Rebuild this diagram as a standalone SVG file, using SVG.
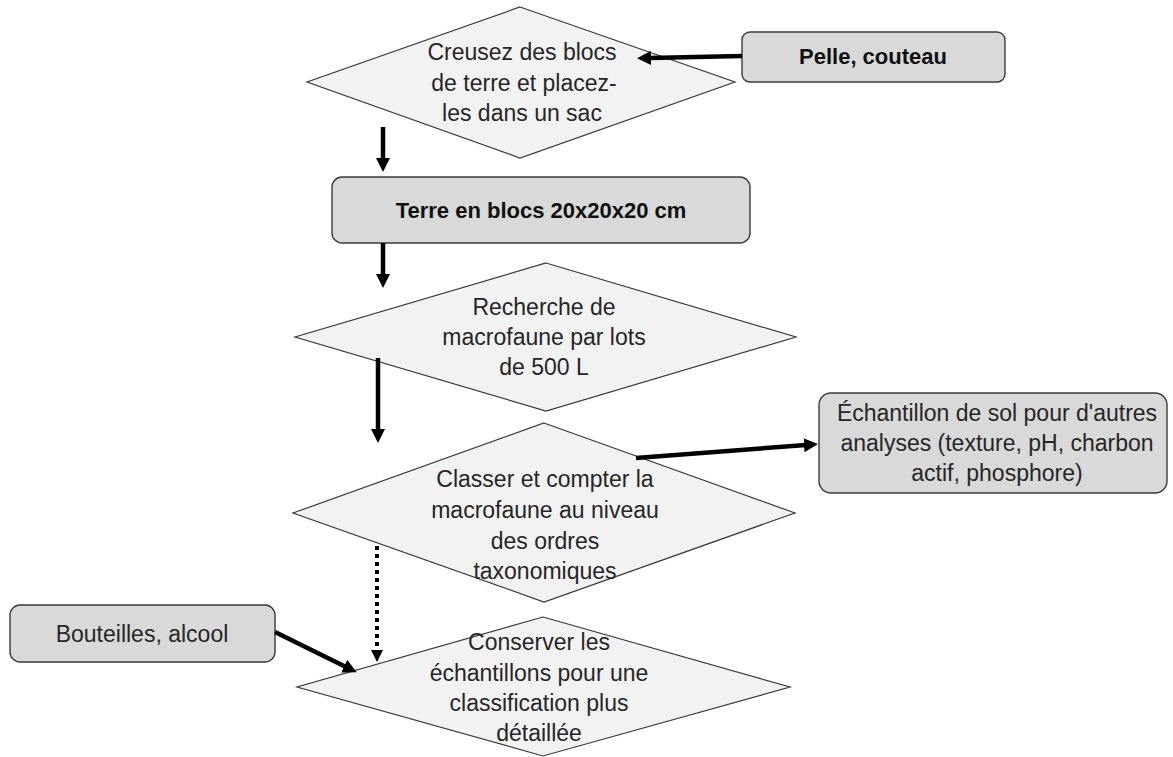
<svg xmlns="http://www.w3.org/2000/svg" width="1173" height="757" viewBox="0 0 1173 757">
  <style>
    .decision { fill: #f2f2f2; stroke: #3a3a3a; stroke-width: 1.2; }
    .box { fill: #d9d9d9; stroke: #3a3a3a; stroke-width: 1.4; }
    .label { font-family: "Liberation Sans", Arial, sans-serif; font-size: 23px; fill: #262626; text-anchor: middle; }
    .bold { font-weight: bold; font-size: 22px; fill: #111; }
    .flow { stroke: #000; stroke-width: 4.5; fill: none; marker-end: url(#head); }
    .dotted { stroke: #000; stroke-width: 4; fill: none; stroke-dasharray: 4 4; marker-end: url(#headSmall); }
  </style>
  <defs>
    <marker id="head" markerUnits="userSpaceOnUse" markerWidth="16" markerHeight="16" refX="2" refY="7" orient="auto">
      <path d="M0,0 L14,7 L0,14 z" fill="#000"/>
    </marker>
    <marker id="headSmall" markerUnits="userSpaceOnUse" markerWidth="14" markerHeight="14" refX="2" refY="6" orient="auto">
      <path d="M0,0 L12,6 L0,12 z" fill="#000"/>
    </marker>
  </defs>

  <rect width="1173" height="757" fill="#ffffff"/>

  <!-- step 1 -->
  <g id="dig">
    <polygon class="decision" points="520,7 735,82 520,158 307,82"/>
    <text class="label" x="522" y="60">Creusez des blocs</text>
    <text class="label" x="524" y="91">de terre et placez-</text>
    <text class="label" x="522" y="121">les dans un sac</text>
  </g>

  <g id="tools">
    <rect class="box" x="742" y="32" width="263" height="50" rx="8"/>
    <text class="label bold" x="873" y="64">Pelle, couteau</text>
  </g>

  <g id="soil-blocks">
    <rect class="box" x="332" y="177" width="418" height="66" rx="10"/>
    <text class="label bold" x="541" y="218">Terre en blocs 20x20x20 cm</text>
  </g>

  <g id="search">
    <polygon class="decision" points="546,263 796,337 546,411 295,337"/>
    <text class="label" x="544" y="315">Recherche de</text>
    <text class="label" x="544" y="345">macrofaune par lots</text>
    <text class="label" x="544" y="375">de 500 L</text>
  </g>

  <g id="classify">
    <polygon class="decision" points="544,423 795,513 544,602 293,513"/>
    <text class="label" x="545" y="487">Classer et compter la</text>
    <text class="label" x="545" y="518">macrofaune au niveau</text>
    <text class="label" x="545" y="549">des ordres</text>
    <text class="label" x="545" y="579">taxonomiques</text>
  </g>

  <g id="soil-sample">
    <rect class="box" x="819" y="393" width="348" height="100" rx="12"/>
    <text class="label" x="997" y="421">Échantillon de sol pour d'autres</text>
    <text class="label" x="997" y="451">analyses (texture, pH, charbon</text>
    <text class="label" x="997" y="481">actif, phosphore)</text>
  </g>

  <g id="bottles">
    <rect class="box" x="10" y="605" width="265" height="57" rx="10"/>
    <text class="label" x="142" y="642">Bouteilles, alcool</text>
  </g>

  <g id="preserve">
    <polygon class="decision" points="543,617 790,687 543,756 297,687"/>
    <text class="label" x="539" y="650">Conserver les</text>
    <text class="label" x="539" y="681">échantillons pour une</text>
    <text class="label" x="539" y="711">classification plus</text>
    <text class="label" x="539" y="741">détaillée</text>
  </g>

  <!-- connectors, drawn over the shapes they touch -->
  <g id="connectors">
    <line class="flow" x1="742" y1="56" x2="649" y2="58"/>
    <line class="flow" x1="383" y1="127" x2="383" y2="160"/>
    <line class="flow" x1="383" y1="243" x2="383" y2="276"/>
    <line class="flow" x1="378" y1="358" x2="378" y2="431"/>
    <line class="flow" x1="636" y1="458" x2="806" y2="445"/>
    <line class="dotted" x1="377" y1="546" x2="377" y2="652"/>
    <line class="flow" x1="275" y1="632" x2="346" y2="667"/>
  </g>
</svg>
